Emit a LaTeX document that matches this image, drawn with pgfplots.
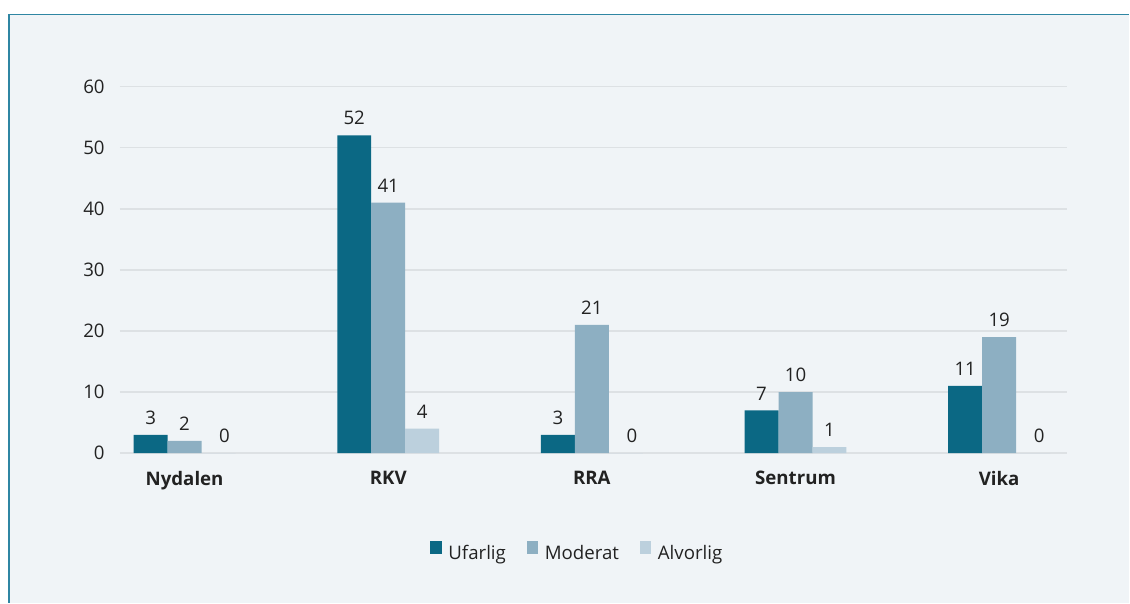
\documentclass[border=0pt]{standalone}
\usepackage{fontspec}
\setmainfont{Open Sans}
\usepackage{pgfplots}
\pgfplotsset{compat=1.18}
\definecolor{cU}{HTML}{0B6884}
\definecolor{cM}{HTML}{8DAFC2}
\definecolor{cA}{HTML}{BCD0DD}
\definecolor{panel}{HTML}{F0F4F7}
\definecolor{gridc}{HTML}{DDE1E4}
\definecolor{border}{HTML}{2F86A3}
\definecolor{txt}{HTML}{222222}
\begin{document}
\fontsize{14}{17}\selectfont
\begin{tikzpicture}
\fill[white] (0pt,0pt) rectangle (847.5pt,452.25pt);
\fill[panel] (6pt,0pt) rectangle (847.5pt,441.75pt);
\draw[border, line width=1.3pt] (6.5pt,0pt) -- (6.5pt,441.4pt) -- (847.5pt,441.4pt);
\begin{axis}[
  at={(90pt,112.125pt)}, anchor=south west,
  scale only axis, width=711pt, height=275.25pt,
  xmin=-0.3175, xmax=4.334, ymin=0, ymax=60,
  ybar=0pt, bar width=25.5pt,
  axis line style={draw=none},
  major tick length=0pt,
  ymajorgrids, grid style={color=gridc, line width=1.3pt},
  ytick={0,10,...,60},
  xtick={0,1,2,3,4},
  xticklabels={Nydalen,RKV,RRA,Sentrum,Vika},
  /pgf/number format/assume math mode=true,
  tick label style={font=\fontsize{14}{17}\selectfont, text=txt, inner sep=0pt},
  xticklabel style={font=\fontsize{14}{17}\selectfont\bfseries, yshift=-13.5pt},
  yticklabel style={xshift=-11.25pt},
  nodes near coords,
  visualization depends on={rawy \as \rawy},
  every node near coord/.append style={font=\fontsize{14}{17}\selectfont, text=txt, inner sep=0pt, yshift=7.5pt, xshift={4.5pt*(\rawy==0)}},
  legend columns=3,
  legend image code/.code={\fill[#1] (0pt,0pt) rectangle (8.7pt,9.3pt);},
  legend style={at={(0.5,0)}, anchor=center, yshift=-75pt, xshift=-12pt, draw=none, fill=none, font=\fontsize{14}{17}\selectfont, text=txt,
    /tikz/every odd column/.append style={column sep=3pt},
    /tikz/every even column/.append style={column sep=13.5pt}},
]
\addplot[fill=cU, draw=none] coordinates {(0,3) (1,52) (2,3) (3,7) (4,11)};
\addplot[fill=cM, draw=none] coordinates {(0,2) (1,41) (2,21) (3,10) (4,19)};
\addplot[fill=cA, draw=none] coordinates {(0,0) (1,4) (2,0) (3,1) (4,0)};
\legend{Ufarlig,Moderat,Alvorlig}
\end{axis}
\end{tikzpicture}
\end{document}
